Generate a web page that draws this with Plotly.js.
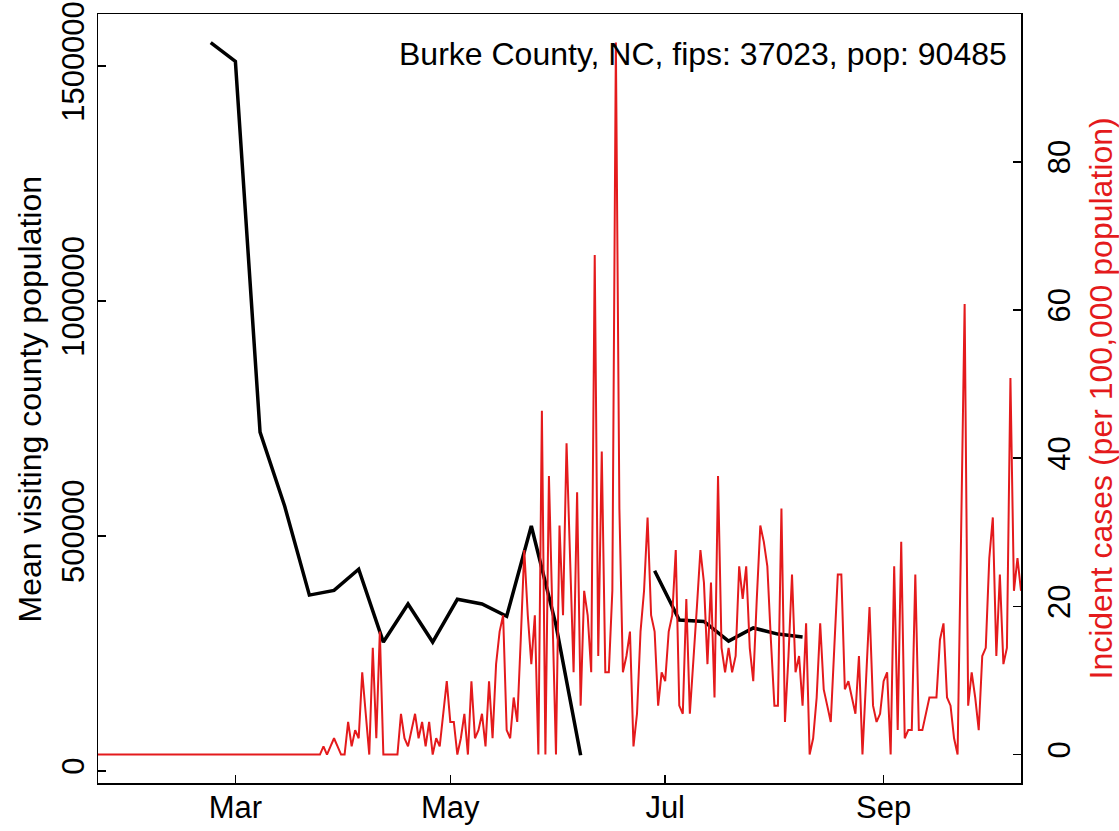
<!DOCTYPE html>
<html>
<head>
<meta charset="utf-8">
<script src="https://cdn.plot.ly/plotly-3.0.1.min.js"></script>
<style>
  html, body { margin: 0; padding: 0; background: #ffffff; }
  #chart { width: 1119px; height: 831px; }
</style>
</head>
<body>
<div id="chart"></div>
<script>
// ---------------- data ----------------
const countyLabel = "Burke County, NC, fips: 37023, pop: 90485";

// weekly mean visiting county population (null = missing week)
const visitDates = [
  "2020-02-23","2020-03-01","2020-03-08","2020-03-15","2020-03-22","2020-03-29",
  "2020-04-05","2020-04-12","2020-04-19","2020-04-26","2020-05-03","2020-05-10",
  "2020-05-17","2020-05-24","2020-05-31","2020-06-07","2020-06-14","2020-06-21",
  "2020-06-28","2020-07-05","2020-07-12","2020-07-19","2020-07-26","2020-08-02","2020-08-09"
];
const visitValues = [
  1550000, 1510000, 721000, 563000, 374000, 384000,
  429000, 274000, 355000, 274000, 365000, 355000,
  329000, 521000, 310000, 33000, null, null,
  426000, 321000, 318000, 276000, 304000, 291000, 285000
];

// daily incident cases per 100,000, starting 2020-01-22
const caseStartDate = "2020-01-22";
const caseValues = [
  // Jan 22 - Mar 24 (63 days)
  0,0,0,0,0,0,0,0,0,0, 0,0,0,0,0,0,0,0,0,0,
  0,0,0,0,0,0,0,0,0,0, 0,0,0,0,0,0,0,0,0,0,
  0,0,0,0,0,0,0,0,0,0, 0,0,0,0,0,0,0,0,0,0,
  0,0,0,
  // from Mar 25
  0,1.1,0,1.1,2.2,1.1,0,0,4.4,1.1,
  3.3,2.2,11.1,5.5,0,14.4,2.2,16.6,0,0,
  0,0,0,5.5,2.2,1.1,3.3,5.5,2.2,4.4,
  1.1,4.4,0,2.2,1.1,5.5,9.9,4.4,4.4,0,
  2.2,5.5,0,9.9,2.2,3.3,5.5,1.1,9.9,2.2,
  12.2,16.6,18.8,3.3,2.2,7.7,4.4,15.5,27.6,18.8,
  12.2,18.8,0,46.4,0,37.6,18.8,0,30.9,18.8,
  42.0,26.5,11.1,35.4,6.6,22.1,18.8,11.1,67.4,13.3,
  40.9,11.1,11.1,22.1,96.1,33.2,11.1,13.3,16.6,1.1,
  5.5,16.6,22.1,32.0,18.8,16.6,6.6,11.1,9.9,16.6,
  18.8,27.6,6.6,5.5,21.0,5.5,12.2,19.9,27.6,23.2,
  12.2,23.2,7.7,37.6,14.4,11.1,14.4,11.1,13.3,25.4,
  21.0,25.4,14.4,9.9,21.0,30.9,28.7,25.4,15.5,6.6,
  6.6,33.2,4.4,13.3,24.3,11.1,13.3,6.6,17.7,0,
  2.2,7.7,17.7,8.8,6.6,4.4,14.4,24.3,24.3,8.8,
  9.9,7.7,5.5,13.3,0,9.9,19.9,6.6,4.4,5.5,
  9.9,11.1,0,25.4,3.3,28.7,2.2,3.3,3.3,24.3,
  3.3,3.3,5.5,7.7,7.7,7.7,15.5,17.7,7.7,6.6,
  2.2,0,29.8,60.8,6.6,11.1,7.7,3.3,13.3,14.4,
  26.5,32.0,13.3,24.3,12.2,14.4,50.8,22.1,26.5,22.1
];

const monthTickDates = ["2020-03-01","2020-05-01","2020-07-01","2020-09-01"];
const monthTickLabels = ["Mar","May","Jul","Sep"];
const leftTickValues = [0, 500000, 1000000, 1500000];
const leftTickLabels = ["0","500000","1000000","1500000"];
const rightTickValues = [0, 20, 40, 60, 80];
const rightTickLabels = ["0","20","40","60","80"];

// ---------------- build ----------------
function dailyDates(start, n) {
  const p = start.split("-").map(Number);
  const out = [];
  for (let i = 0; i < n; i++) {
    const d = new Date(Date.UTC(p[0], p[1] - 1, p[2] + i));
    out.push(d.toISOString().slice(0, 10));
  }
  return out;
}
const caseDates = dailyDates(caseStartDate, caseValues.length);

const RED = "#E41A1C";
const FONT = "Liberation Sans, Arial, Helvetica, sans-serif";
const FS_TICK = 31;
const FS_TEXT = 32;

const traces = [
  {
    x: visitDates, y: visitValues, type: "scatter", mode: "lines",
    line: { color: "#000000", width: 3.5 }, connectgaps: false,
    yaxis: "y", hoverinfo: "skip"
  },
  {
    x: caseDates, y: caseValues, type: "scatter", mode: "lines",
    line: { color: RED, width: 2 },
    yaxis: "y2", hoverinfo: "skip"
  }
];

const axisCommon = {
  showgrid: false, zeroline: false,
  showline: true, linecolor: "#000000", linewidth: 1.5,
  ticks: "inside", ticklen: 8, tickwidth: 1.5, tickcolor: "#000000",
  tickfont: { family: FONT, size: FS_TICK, color: "#000000" }
};

const layout = {
  width: 1119, height: 831,
  margin: { l: 98, r: 98, t: 14, b: 48, pad: 0 },
  paper_bgcolor: "#ffffff", plot_bgcolor: "#ffffff",
  showlegend: false,
  font: { family: FONT, size: FS_TICK, color: "#000000" },
  xaxis: Object.assign({}, axisCommon, {
    type: "date",
    range: [caseDates[0], caseDates[caseDates.length - 1]],
    tickmode: "array", tickvals: monthTickDates, ticktext: monthTickLabels,
    mirror: true, ticklabelstandoff: -4
  }),
  yaxis: Object.assign({}, axisCommon, {
    range: [-26000, 1611000],
    tickmode: "array", tickvals: leftTickValues, ticktext: leftTickLabels,
    tickangle: -90, mirror: true, ticklabelstandoff: 0
  }),
  yaxis2: Object.assign({}, axisCommon, {
    overlaying: "y", side: "right",
    range: [-3.84, 99.94],
    tickmode: "array", tickvals: rightTickValues, ticktext: rightTickLabels,
    tickangle: -90, ticklabelstandoff: 10
  }),
  annotations: [
    {
      text: countyLabel, xref: "paper", yref: "paper",
      x: 0.987, y: 0.948, xanchor: "right", yanchor: "middle",
      showarrow: false, font: { family: FONT, size: FS_TEXT, color: "#000000" }
    },
    {
      text: "Mean visiting county population", xref: "paper", yref: "paper",
      x: -0.0737, y: 0.5, xanchor: "center", yanchor: "middle", textangle: -90,
      showarrow: false, font: { family: FONT, size: FS_TEXT, color: "#000000" }
    },
    {
      text: "Incident cases (per 100,000 population)", xref: "paper", yref: "paper",
      x: 1.0856, y: 0.5, xanchor: "center", yanchor: "middle", textangle: -90,
      showarrow: false, font: { family: FONT, size: FS_TEXT, color: RED }
    }
  ]
};

Plotly.newPlot("chart", traces, layout, { displayModeBar: false, staticPlot: true });
</script>
</body>
</html>
